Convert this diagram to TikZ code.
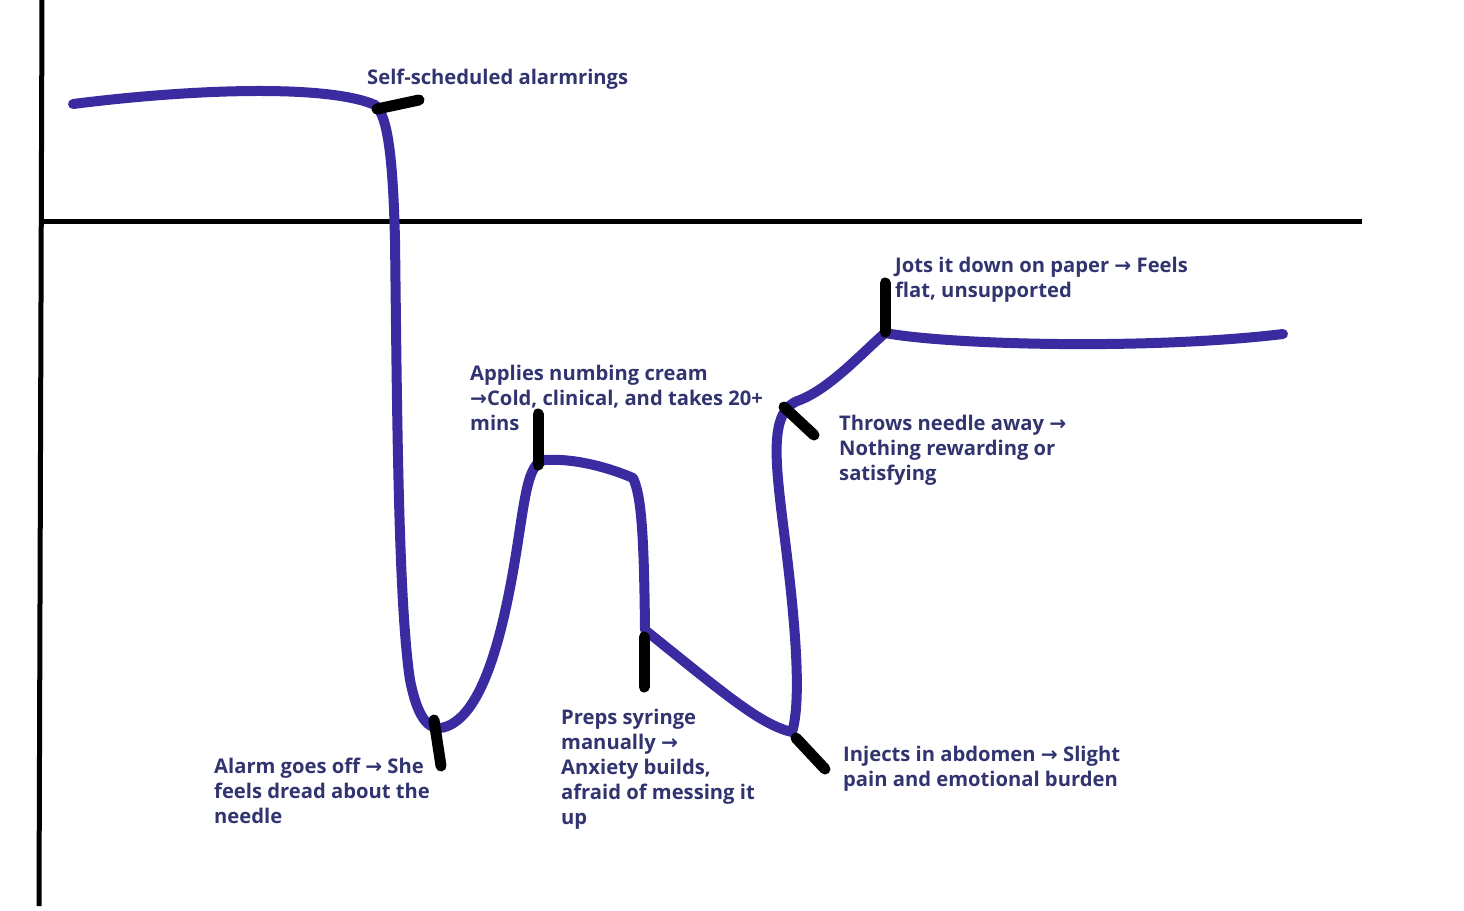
\documentclass[tikz,border=0pt]{standalone}
\usepackage{fontspec}
\setmainfont{Open Sans}
\newfontfamily\arrfont{DejaVu Sans}
\newcommand{\rarr}{{\arrfont →}}
\definecolor{curvecol}{HTML}{3A2BA0}
\definecolor{txtcol}{HTML}{31346F}
\begin{document}
\begin{tikzpicture}[x=1pt,y=-1pt,
  axisline/.style={line width=5pt,black},
  journey/.style={line width=10pt,curvecol,line cap=round,line join=round},
  tick/.style={line width=11pt,black,line cap=round},
  lbl/.style={anchor=north west,inner sep=0pt,align=left,text=txtcol,
    font=\fontsize{20.2}{25}\selectfont\bfseries}]
\useasboundingbox (0,0) rectangle (1464,910);
% axes
\coordinate (ytop) at (42,0);
\coordinate (ybot) at (39,906);
\coordinate (xl) at (42,221);
\coordinate (xr) at (1362,221);
\draw[axisline] (ytop) -- (ybot);
\draw[axisline] (xl) -- (xr);
% journey curve
\coordinate (p0) at (73,104);
\coordinate (p1) at (375,105);
\coordinate (p2) at (395,240);
\coordinate (p3) at (410,680);
\coordinate (p4) at (450,725);
\coordinate (p5) at (515,560);
\coordinate (p6) at (545,460);
\coordinate (p7) at (633,478);
\coordinate (p8) at (645,630);
\coordinate (p9) at (792,732);
\coordinate (p10) at (785,540);
\coordinate (p11) at (800,400);
\coordinate (p12) at (885,333);
\coordinate (p13) at (1283,334);
\draw[journey] (p0) .. controls (200,88) and (330,85) .. (p1)
  .. controls (388,115) and (393,160) .. (p2)
  .. controls (397,400) and (398,600) .. (p3)
  .. controls (418,720) and (430,735) .. (p4)
  .. controls (480,710) and (500,650) .. (p5)
  .. controls (525,500) and (527,462) .. (p6)
  .. controls (575,458) and (610,468) .. (p7)
  .. controls (641,495) and (644,530) .. (p8)
  .. controls (720,690) and (760,725) .. (p9)
  .. controls (802,700) and (795,620) .. (p10)
  .. controls (775,460) and (768,410) .. (p11)
  .. controls (830,388) and (860,355) .. (p12)
  .. controls (950,345) and (1150,350) .. (p13);
% ticks
\coordinate (t1a) at (377,109); \coordinate (t1b) at (419,100);
\coordinate (t2a) at (434,720); \coordinate (t2b) at (441,766);
\coordinate (t3a) at (538,414); \coordinate (t3b) at (538,465);
\coordinate (t4a) at (644,637); \coordinate (t4b) at (644,687);
\coordinate (t5a) at (796,738); \coordinate (t5b) at (825,769);
\coordinate (t6a) at (784,407); \coordinate (t6b) at (814,435);
\coordinate (t7a) at (885,283); \coordinate (t7b) at (885,332);
\draw[tick] (t1a) -- (t1b);
\draw[tick] (t2a) -- (t2b);
\draw[tick] (t3a) -- (t3b);
\draw[tick] (t4a) -- (t4b);
\draw[tick] (t5a) -- (t5b);
\draw[tick] (t6a) -- (t6b);
\draw[tick] (t7a) -- (t7b);
% labels
\node[lbl] (l1) at (367,69) {Self-scheduled alarmrings};
\node[lbl] (l2) at (470,365) {Applies numbing cream\\\rarr Cold, clinical, and takes 20+\\mins};
\node[lbl] (l3) at (895,257) {Jots it down on paper \rarr{} Feels\\flat, unsupported};
\node[lbl] (l4) at (839,415) {Throws needle away \rarr\\Nothing rewarding or\\satisfying};
\node[lbl] (l5) at (214,758) {Alarm goes off \rarr{} She\\feels dread about the\\needle};
\node[lbl] (l6) at (561,709) {Preps syringe\\manually \rarr\\Anxiety builds,\\afraid of messing it\\up};
\node[lbl] (l7) at (843,746) {Injects in abdomen \rarr{} Slight\\pain and emotional burden};
\end{tikzpicture}
\end{document}
